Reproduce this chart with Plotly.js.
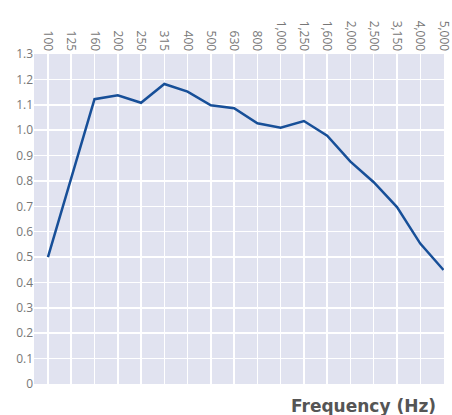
<!DOCTYPE html>
<html>
<head>
<meta charset="utf-8">
<script src="https://cdn.plot.ly/plotly-3.0.1.min.js"></script>
<style>html,body{margin:0;padding:0;background:#fff;}#chart{width:452px;height:415px;}</style>
</head>
<body>
<div id="chart"></div>
<script>
const frequencies = ["100","125","160","200","250","315","400","500","630","800","1,000","1,250","1,600","2,000","2,500","3,150","4,000","5,000"];
const values = [0.50, 0.81, 1.122, 1.137, 1.108, 1.182, 1.152, 1.098, 1.086, 1.027, 1.010, 1.036, 0.978, 0.876, 0.795, 0.697, 0.553, 0.449];
const yTickVals = [0,0.1,0.2,0.3,0.4,0.5,0.6,0.7,0.8,0.9,1.0,1.1,1.2,1.3];
const yTickText = ["0","0.1","0.2","0.3","0.4","0.5","0.6","0.7","0.8","0.9","1.0","1.1","1.2","1.3"];
const xTitle = "Frequency (Hz)";

const trace = {
  x: frequencies,
  y: values,
  type: "scatter",
  mode: "lines",
  line: {color: "#174f98", width: 2.5},
  hoverinfo: "skip"
};

const layout = {
  width: 452,
  height: 415,
  margin: {l: 34, r: 8, t: 54, b: 31, pad: 0},
  paper_bgcolor: "#ffffff",
  plot_bgcolor: "#e1e3f0",
  showlegend: false,
  font: {family: "Open Sans, sans-serif", color: "#777777", size: 12},
  xaxis: {
    type: "category",
    side: "top",
    range: [-0.6, 17.02],
    tickangle: 90,
    showgrid: true,
    gridcolor: "#ffffff",
    gridwidth: 1.5,
    zeroline: false,
    showline: false,
    ticks: "",
    ticklen: 0,
    tickfont: {size: 12, color: "#777777"},
    automargin: false
  },
  yaxis: {
    range: [0, 1.3],
    tickvals: yTickVals,
    ticktext: yTickText,
    showgrid: true,
    gridcolor: "#ffffff",
    gridwidth: 1.5,
    zeroline: false,
    showline: false,
    ticks: "",
    tickfont: {size: 12, color: "#777777"},
    automargin: false
  },
  annotations: [{
    text: "<b>" + xTitle + "</b>",
    xref: "paper", yref: "paper",
    x: 1, y: 0,
    xanchor: "right", yanchor: "middle",
    yshift: -22,
    xshift: -6,
    showarrow: false,
    font: {family: "DejaVu Sans, sans-serif", size: 17, color: "#555555"}
  }]
};

Plotly.newPlot("chart", [trace], layout, {displayModeBar: false, staticPlot: true});
</script>
</body>
</html>
